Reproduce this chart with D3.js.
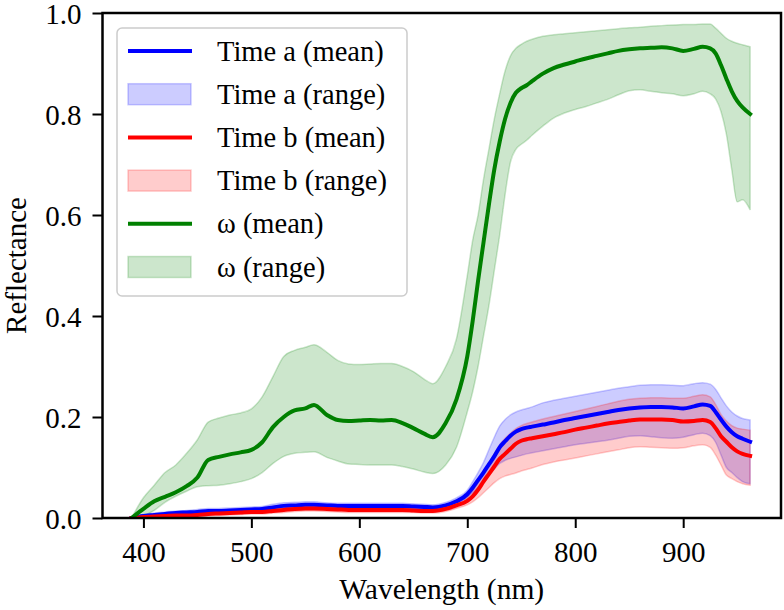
<!DOCTYPE html>
<html><head><meta charset="utf-8">
<script src="https://cdn.jsdelivr.net/npm/d3@7"></script>
</head>
<body style="margin:0;padding:0;background:#fff">
<svg id="chart" width="784" height="610"></svg>
<script>
const wavelength = [389,400,410,420,430,440,450,460,470,480,490,500,510,520,530,540,550,558,570,580,590,600,610,620,630,640,650,660,668,680,690,700,705,710,715,720,725,730,735,740,745,750,755,760,770,780,790,800,810,820,830,840,850,860,870,880,890,900,910,918,925,930,935,940,945,950,955,962];

const greenMean = [0.000,0.018,0.033,0.042,0.051,0.063,0.080,0.115,0.121,0.126,0.130,0.135,0.150,0.180,0.200,0.213,0.217,0.224,0.204,0.194,0.192,0.193,0.194,0.193,0.194,0.188,0.178,0.167,0.160,0.188,0.235, 0.320,0.390,0.470,0.545,0.620,0.690,0.745,0.790,0.822,0.842,0.851,0.857,0.865, 0.880,0.891,0.898,0.904,0.910,0.915,0.920,0.925,0.928,0.930,0.931,0.932,0.930,0.925,0.929,0.933,0.930,0.920,0.897,0.870,0.845,0.826,0.813,0.800];
const greenUpper = [0.000,0.040,0.065,0.090,0.105,0.128,0.155,0.190,0.198,0.204,0.208,0.216,0.240,0.280,0.320,0.332,0.338,0.343,0.328,0.312,0.305,0.304,0.305,0.306,0.306,0.300,0.290,0.275,0.266,0.300,0.355, 0.480,0.550,0.600,0.670,0.730,0.790,0.840,0.885,0.915,0.930,0.938,0.944,0.948, 0.954,0.957,0.959,0.961,0.963,0.965,0.967,0.969,0.971,0.972,0.974,0.975,0.976,0.977,0.977,0.978,0.978,0.970,0.960,0.950,0.944,0.940,0.937,0.933];
const greenLower = [0.000,0.005,0.015,0.031,0.043,0.053,0.062,0.064,0.065,0.068,0.072,0.078,0.090,0.108,0.122,0.128,0.130,0.131,0.120,0.113,0.107,0.106,0.105,0.105,0.105,0.102,0.097,0.091,0.088,0.105,0.140, 0.210,0.250,0.300,0.360,0.420,0.490,0.560,0.640,0.705,0.730,0.740,0.748,0.758, 0.776,0.792,0.802,0.809,0.815,0.822,0.829,0.838,0.846,0.848,0.845,0.842,0.840,0.836,0.840,0.845,0.840,0.830,0.805,0.760,0.690,0.626,0.630,0.610];

const blueMean = [0.000,0.004,0.006,0.008,0.010,0.011,0.012,0.014,0.014,0.015,0.016,0.017,0.018,0.021,0.024,0.025,0.026,0.026,0.025,0.024,0.024,0.024,0.024,0.024,0.024,0.024,0.023,0.022,0.021,0.025,0.033, 0.047,0.060,0.075,0.090,0.106,0.122,0.140,0.152,0.163,0.171,0.176,0.179,0.181, 0.185,0.189,0.194,0.198,0.202,0.206,0.210,0.214,0.217,0.219,0.220,0.220,0.219,0.217,0.221,0.225,0.222,0.210,0.195,0.181,0.170,0.162,0.157,0.151];
const blueUpper = [0.000,0.007,0.010,0.012,0.014,0.015,0.017,0.019,0.019,0.020,0.021,0.022,0.023,0.027,0.030,0.031,0.032,0.032,0.030,0.029,0.029,0.029,0.029,0.029,0.029,0.029,0.028,0.027,0.026,0.031,0.040, 0.055,0.072,0.090,0.110,0.135,0.160,0.182,0.195,0.204,0.210,0.214,0.217,0.220, 0.228,0.233,0.237,0.241,0.245,0.249,0.253,0.257,0.260,0.263,0.264,0.264,0.263,0.262,0.266,0.268,0.265,0.255,0.238,0.222,0.210,0.202,0.197,0.194];
const blueLower = [0.000,0.002,0.003,0.005,0.006,0.007,0.008,0.010,0.010,0.011,0.012,0.013,0.014,0.016,0.019,0.020,0.021,0.021,0.020,0.019,0.019,0.019,0.019,0.019,0.019,0.019,0.018,0.017,0.016,0.019,0.027, 0.040,0.050,0.060,0.072,0.085,0.097,0.108,0.114,0.118,0.121,0.124,0.127,0.129, 0.133,0.137,0.141,0.145,0.148,0.151,0.154,0.158,0.162,0.163,0.161,0.159,0.158,0.160,0.165,0.168,0.163,0.150,0.125,0.100,0.090,0.080,0.072,0.068];

const redMean = [0.000,0.002,0.003,0.004,0.005,0.005,0.006,0.008,0.009,0.010,0.011,0.012,0.012,0.014,0.016,0.018,0.019,0.019,0.018,0.017,0.016,0.016,0.016,0.016,0.016,0.016,0.015,0.014,0.014,0.018,0.025, 0.034,0.043,0.056,0.072,0.087,0.102,0.117,0.127,0.137,0.147,0.153,0.156,0.158, 0.162,0.166,0.170,0.175,0.179,0.183,0.187,0.190,0.193,0.195,0.195,0.195,0.194,0.191,0.192,0.194,0.190,0.178,0.162,0.151,0.140,0.132,0.127,0.123];
const redUpper = [0.000,0.004,0.006,0.007,0.008,0.009,0.010,0.012,0.013,0.014,0.015,0.016,0.017,0.019,0.021,0.023,0.024,0.024,0.023,0.022,0.021,0.021,0.021,0.021,0.021,0.021,0.020,0.019,0.019,0.023,0.031, 0.042,0.055,0.070,0.088,0.108,0.127,0.145,0.158,0.168,0.177,0.183,0.187,0.190, 0.196,0.201,0.206,0.211,0.216,0.221,0.226,0.231,0.235,0.237,0.238,0.238,0.237,0.237,0.241,0.244,0.240,0.225,0.205,0.192,0.183,0.178,0.176,0.174];
const redLower = [0.000,0.000,0.001,0.001,0.002,0.002,0.003,0.004,0.005,0.006,0.007,0.008,0.008,0.010,0.011,0.013,0.014,0.014,0.013,0.012,0.011,0.011,0.011,0.011,0.011,0.011,0.011,0.010,0.010,0.013,0.019, 0.026,0.032,0.040,0.050,0.060,0.070,0.078,0.083,0.086,0.089,0.093,0.096,0.099, 0.106,0.111,0.115,0.119,0.123,0.127,0.131,0.135,0.139,0.141,0.140,0.139,0.138,0.139,0.143,0.145,0.140,0.125,0.105,0.085,0.078,0.072,0.068,0.065];

const xTicks = [400,500,600,700,800,900];
const yTicks = [0.0,0.2,0.4,0.6,0.8,1.0];
const legendLabels = ["Time a (mean)","Time a (range)","Time b (mean)","Time b (range)","\u03C9 (mean)","\u03C9 (range)"];

const series = [
  {name:"Time a", color:"#0000ff", mean:blueMean, lo:blueLower, hi:blueUpper},
  {name:"Time b", color:"#ff0000", mean:redMean, lo:redLower, hi:redUpper},
  {name:"\u03C9", color:"#008000", mean:greenMean, lo:greenLower, hi:greenUpper}
];

const FONT = "'Liberation Serif', Tinos, 'Times New Roman', serif";
function serifText(sel, fs){
  return sel.attr("font-family", FONT)
    .style("font-family", FONT, "important")
    .attr("font-size", fs).style("font-size", fs+"px", "important")
    .attr("fill","#000");
}
const svg = d3.select("#chart");
const L = 102.5, R = 781, T = 13, B = 518;
const x = d3.scaleLinear().domain([362.1, 990.6]).range([L, R]);
const y = d3.scaleLinear().domain([0, 1]).range([B, T]);

svg.append("defs").append("clipPath").attr("id","clip")
  .append("rect").attr("x",L).attr("y",T).attr("width",R-L).attr("height",B-T);

const plot = svg.append("g").attr("clip-path","url(#clip)");
const curve = d3.curveMonotoneX;

series.forEach(s => {
  const area = d3.area().curve(curve)
    .x((d,i)=>x(wavelength[i])).y0((d,i)=>y(s.lo[i])).y1((d,i)=>y(s.hi[i]));
  plot.append("path").datum(s.mean).attr("d", area)
    .attr("fill", s.color).attr("fill-opacity", 0.2)
    .attr("stroke", s.color).attr("stroke-opacity", 0.2).attr("stroke-width", 1.5);
});
series.forEach(s => {
  const line = d3.line().curve(curve)
    .x((d,i)=>x(wavelength[i])).y(d=>y(d));
  plot.append("path").datum(s.mean).attr("d", line)
    .attr("fill","none").attr("stroke", s.color).attr("stroke-width", 4)
    .attr("stroke-linejoin","round").attr("stroke-linecap","square");
});

const xAxis = d3.axisBottom(x).tickValues(xTicks).tickSize(10).tickPadding(13).tickFormat(d3.format("d"));
const yAxis = d3.axisLeft(y).tickValues(yTicks).tickSize(10).tickPadding(11).tickFormat(d3.format(".1f"));
const gx = svg.append("g").attr("transform",`translate(0,${B})`).call(xAxis);
const gy = svg.append("g").attr("transform",`translate(${L},0)`).call(yAxis);
[gx,gy].forEach(g=>{
  g.attr("font-family", null).attr("font-size", null);
  g.select(".domain").remove();
  g.selectAll(".tick line").attr("stroke","#000").attr("stroke-width",2);
  serifText(g.selectAll(".tick text"), 29);
});
gy.selectAll(".tick text").attr("dy","0.36em");
gx.selectAll(".tick text").attr("dy","0.71em");

svg.append("rect").attr("x",L).attr("y",T).attr("width",R-L).attr("height",B-T)
  .attr("fill","none").attr("stroke","#000").attr("stroke-width",2.5);

serifText(svg.append("text"), 29.5).attr("x",(L+R)/2).attr("y",599).attr("text-anchor","middle").text("Wavelength (nm)");
serifText(svg.append("text"), 29).attr("transform",`translate(26,${(T+B)/2}) rotate(-90)`).attr("text-anchor","middle").text("Reflectance");

const lg = svg.append("g");
lg.append("rect").attr("x",117).attr("y",28).attr("width",290).attr("height",268).attr("rx",5)
  .attr("fill","#fff").attr("fill-opacity",0.8).attr("stroke","#cccccc").attr("stroke-width",1.5);
const rowY0 = 51, rowH = 43.2;
legendLabels.forEach((lab,i)=>{
  const s = series[Math.floor(i/2)];
  const cy = rowY0 + i*rowH;
  if (i%2===0) {
    lg.append("line").attr("x1",128).attr("x2",192).attr("y1",cy).attr("y2",cy)
      .attr("stroke",s.color).attr("stroke-width",4);
  } else {
    lg.append("rect").attr("x",128).attr("y",cy-10.5).attr("width",63).attr("height",21)
      .attr("fill",s.color).attr("fill-opacity",0.2).attr("stroke",s.color).attr("stroke-opacity",0.2).attr("stroke-width",1.5);
  }
  serifText(lg.append("text"), 28.5).attr("x",217).attr("y",cy+9.5).text(lab);
});
</script>
</body></html>
